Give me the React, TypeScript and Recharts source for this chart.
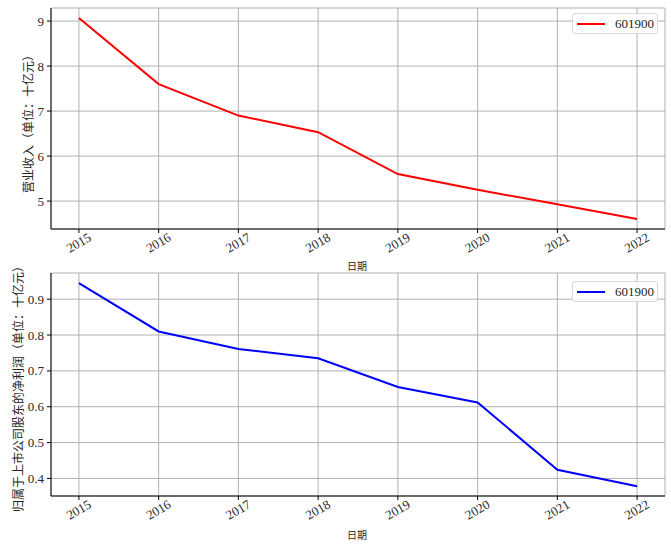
import {
    LineChart,
    Line,
    XAxis,
    YAxis,
    CartesianGrid,
} from "recharts";

const YEARS = [2015, 2016, 2017, 2018, 2019, 2020, 2021, 2022];
// 营业收入（十亿元）
const REVENUE = [9.07, 7.6, 6.9, 6.53, 5.6, 5.25, 4.93, 4.6];
// 归属于上市公司股东的净利润（十亿元）
const PROFIT = [0.945, 0.81, 0.761, 0.735, 0.655, 0.612, 0.424, 0.378];

const REVENUE_TICKS = [5, 6, 7, 8, 9];
const PROFIT_TICKS = [0.4, 0.5, 0.6, 0.7, 0.8, 0.9];
const CODE = "601900";

const SERIF = "'Liberation Serif', 'DejaVu Serif', serif";
const CJK = "'Noto Sans CJK SC', sans-serif";
const GRID = "#b0b0b0";
const INK = "#262626";

const revenueData = YEARS.map((y, i) => ({ year: y, value: REVENUE[i] }));
const profitData = YEARS.map((y, i) => ({ year: y, value: PROFIT[i] }));

const YearTick = (props: any) => {
    const { x, y, payload } = props;
    return (
        <text
            x={x}
            y={y + 12}
            textAnchor="middle"
            transform={`rotate(-30 ${x} ${y + 8})`}
            style={{ fontFamily: SERIF, fontSize: 13, fill: INK }}
        >
            {payload.value}
        </text>
    );
};

const makeValueTick = (decimals: number) => (props: any) => {
    const { x, y, payload } = props;
    return (
        <text
            x={x}
            y={y}
            textAnchor="end"
            dominantBaseline="central"
            style={{ fontFamily: SERIF, fontSize: 13, fill: INK }}
        >
            {decimals ? payload.value.toFixed(decimals) : payload.value}
        </text>
    );
};

const LegendBox = ({ color, top }: { color: string; top: number }) => (
    <div
        style={{
            position: "absolute",
            left: 572,
            top,
            width: 86,
            height: 21,
            boxSizing: "border-box",
            border: "1px solid #d9d9d9",
            borderRadius: 3,
            background: "rgba(255,255,255,0.8)",
            display: "flex",
            alignItems: "center",
            paddingLeft: 4,
            fontFamily: SERIF,
            fontSize: 13,
            color: INK,
        }}
    >
        <span
            style={{
                display: "inline-block",
                width: 28,
                height: 2,
                background: color,
                marginRight: 10,
            }}
        />
        {CODE}
    </div>
);

interface PanelProps {
    data: { year: number; value: number }[];
    color: string;
    domain: [number, number];
    ticks: number[];
    decimals: number;
    height: number;
    marginTop: number;
    xAxisHeight: number;
    yLabel: string;
    yLabelX: number;
    yLabelY: number;
    xLabelY: number;
}

const Panel = ({
    data,
    color,
    domain,
    ticks,
    decimals,
    height,
    marginTop,
    xAxisHeight,
    yLabel,
    yLabelX,
    yLabelY,
    xLabelY,
}: PanelProps) => (
    <LineChart
        width={671}
        height={height}
        data={data}
        margin={{ top: marginTop, right: 6, left: 0, bottom: 0 }}
    >
        <CartesianGrid stroke={GRID} strokeWidth={1} />
        <XAxis
            dataKey="year"
            type="number"
            domain={[2014.65, 2022.35]}
            allowDataOverflow
            ticks={YEARS}
            height={xAxisHeight}
            tickSize={4}
            tickLine={{ stroke: "#000" }}
            axisLine={{ stroke: "#000" }}
            tick={<YearTick />}
            label={() => (
                <text
                    x={357}
                    y={xLabelY}
                    textAnchor="middle"
                    style={{ fontFamily: CJK, fontSize: 10, fill: INK }}
                >
                    日期
                </text>
            )}
        />
        <XAxis
            xAxisId="top"
            orientation="top"
            type="number"
            domain={[2014.65, 2022.35]}
            allowDataOverflow
            height={0}
            tick={false}
            tickLine={false}
            axisLine={{ stroke: "#000" }}
        />
        <YAxis
            type="number"
            domain={domain}
            allowDataOverflow
            ticks={ticks}
            width={51}
            tickSize={4}
            tickMargin={3}
            tickLine={{ stroke: "#000" }}
            axisLine={{ stroke: "#000" }}
            tick={makeValueTick(decimals)}
            label={() => (
                <text
                    x={yLabelX}
                    y={yLabelY}
                    textAnchor="middle"
                    dominantBaseline="central"
                    transform={`rotate(-90 ${yLabelX} ${yLabelY})`}
                    style={{ fontFamily: CJK, fontSize: 12, fill: INK }}
                >
                    {yLabel}
                </text>
            )}
        />
        <YAxis
            yAxisId="right"
            orientation="right"
            type="number"
            domain={domain}
            width={0}
            tick={false}
            tickLine={false}
            axisLine={{ stroke: "#000" }}
        />
        <Line
            dataKey="value"
            stroke={color}
            strokeWidth={2}
            dot={false}
            activeDot={false}
            isAnimationActive={false}
        />
    </LineChart>
);

export default function App() {
    return (
        <div
            style={{
                position: "absolute",
                left: 0,
                top: 0,
                width: 671,
                height: 549,
                background: "#fff",
            }}
        >
            <div style={{ position: "absolute", left: 0, top: 0 }}>
                <Panel
                    data={revenueData}
                    color="#ff0000"
                    domain={[4.38, 9.29]}
                    ticks={REVENUE_TICKS}
                    decimals={0}
                    height={272}
                    marginTop={8}
                    xAxisHeight={43}
                    yLabel="营业收入（单位：十亿元）"
                    yLabelX={27}
                    yLabelY={121}
                    xLabelY={270}
                />
            </div>
            <LegendBox color="#ff0000" top={13} />
            <div style={{ position: "absolute", left: 0, top: 255 }}>
                <Panel
                    data={profitData}
                    color="#0000ff"
                    domain={[0.351, 0.973]}
                    ticks={PROFIT_TICKS}
                    decimals={1}
                    height={294}
                    marginTop={18}
                    xAxisHeight={53}
                    yLabel="归属于上市公司股东的净利润（单位：十亿元）"
                    yLabelX={17}
                    yLabelY={131}
                    xLabelY={284}
                />
            </div>
            <LegendBox color="#0000ff" top={281} />
        </div>
    );
}
